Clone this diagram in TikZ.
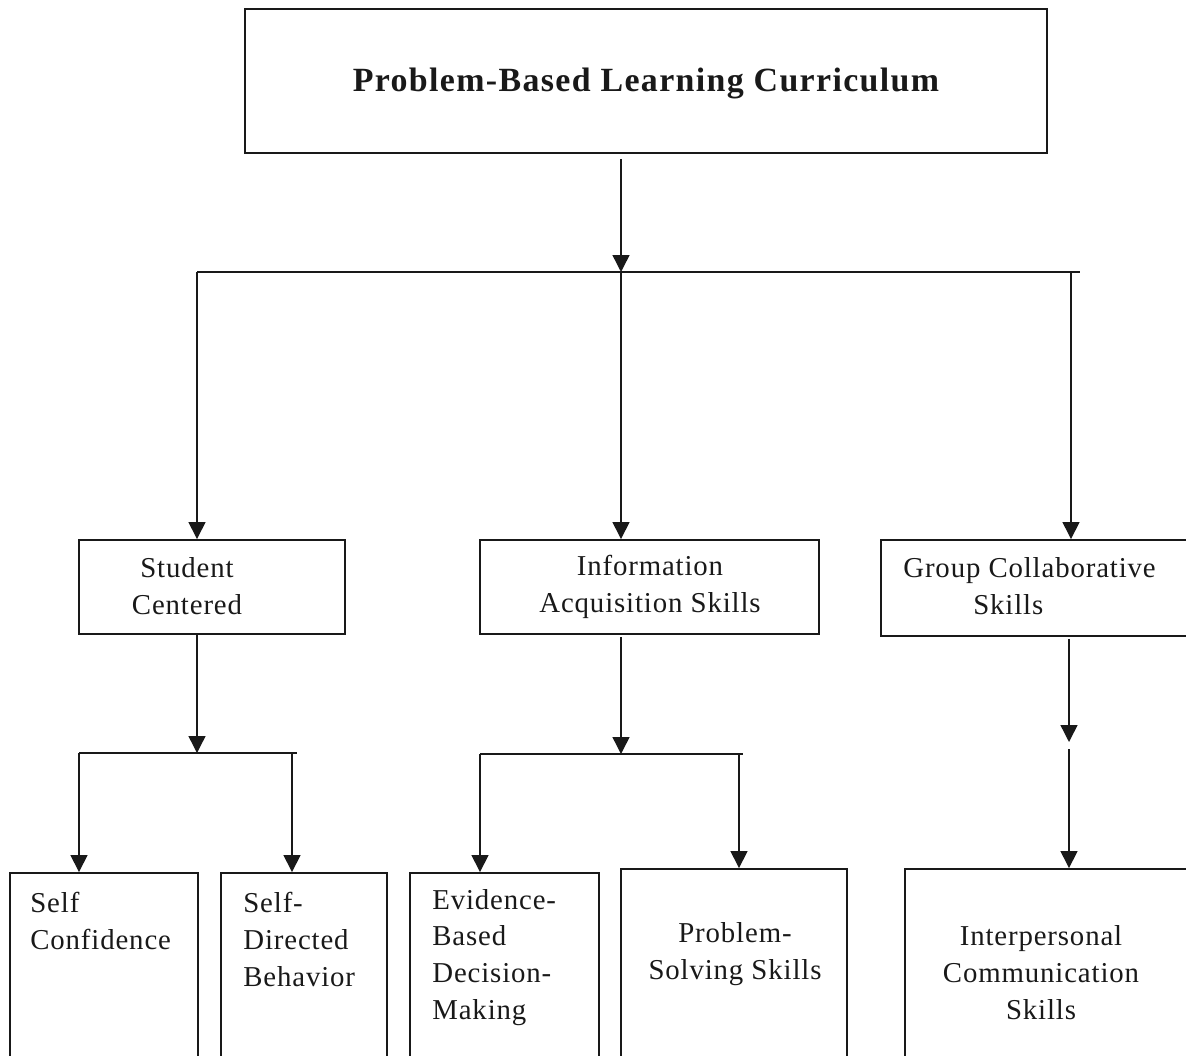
\documentclass[tikz,border=0pt]{standalone}
\usepackage{fontspec}
\setmainfont{Liberation Serif}[LetterSpace=3]
\newfontfamily\titlefont{Liberation Serif}[LetterSpace=4]
\usepackage{tikz}
\usetikzlibrary{arrows.meta,positioning}

\begin{document}
\begin{tikzpicture}[x=0.02cm,y=-0.02cm,
  font=\fontsize{16.4}{21}\selectfont,
  box/.style={draw=cl,line width=1.1pt,inner sep=0pt,fill=none},
  arr/.style={draw=cl,line width=0.8pt,-{Triangle[width=0.34cm,length=0.34cm]}},
  bar/.style={draw=cl,line width=0.8pt},
  txt/.style={inner sep=0pt,text=cl}]
%
\useasboundingbox (0,0) rectangle (1186,1055);
\clip (0,0) rectangle (1186,1055);
%
\definecolor{cl}{rgb}{0.1,0.1,0.1}
%
\node[box,minimum width=16.04cm,minimum height=2.88cm] (pbl) at (646,81) {};
\node[box,minimum width=5.32cm,minimum height=1.88cm] (sc) at (212,587) {};
\node[box,minimum width=6.78cm,minimum height=1.88cm] (ia) at (649.5,587) {};
\node[box,minimum width=6.28cm,minimum height=1.92cm] (gc) at (1038,588) {};
\node[box,minimum width=3.76cm,minimum height=3.94cm] (sconf) at (104,971.5) {};
\node[box,minimum width=3.32cm,minimum height=3.94cm] (sdir) at (304,971.5) {};
\node[box,minimum width=3.78cm,minimum height=3.94cm] (ebdm) at (504.5,971.5) {};
\node[box,minimum width=4.52cm,minimum height=4.02cm] (pss) at (734,969.5) {};
\node[box,minimum width=5.80cm,minimum height=4.02cm] (ics) at (1050,969.5) {};
%
\node[txt,font=\titlefont\bfseries\fontsize{19.3}{23}\selectfont] (pblText) at (646,83) {Problem-Based Learning Curriculum};
\node[txt,align=center] (scText) at (187,586.5) {Student\\Centered};
\node[txt,align=center] (iaText) at (650,586.5) {Information\\Acquisition Skills};
\node[txt,align=left,anchor=west] (gcText) at (903,586.5) {Group Collaborative\\\hspace*{1.4cm}Skills};
\node[txt,align=left,anchor=west] (sconfText) at (30,921) {Self\\Confidence};
\node[txt,align=left,anchor=west] (sdirText) at (243,939.5) {Self-\\Directed\\Behavior};
\node[txt,align=left,anchor=west] (ebdmText) at (432,957.5) {Evidence-\\Based\\Decision-\\Making};
\node[txt,align=center] (pssText) at (735,954.5) {Problem-\\Solving Skills};
\node[txt,align=center] (icsText) at (1041,973) {Interpersonal\\Communication\\Skills};
%
\coordinate (j1) at (621,272);
\coordinate (barL) at (197,272);
\coordinate (barR) at (1080,272);
\coordinate (gcDrop) at (1071,272);
\coordinate (j2) at (197,753);
\coordinate (b2L) at (79,753);
\coordinate (b2R) at (297,753);
\coordinate (b2Drop) at (292,753);
\coordinate (j3) at (621,754);
\coordinate (b3L) at (480,754);
\coordinate (b3R) at (743,754);
\coordinate (b3Drop) at (739,754);
\coordinate (gcA) at (1069,742);
\coordinate (gcB) at (1069,749);
%
\draw[arr] ([yshift=-0.1cm]j1 |- pbl.south) -- (j1);
\draw[bar] (barL) -- (barR);
\draw[arr] (barL) -- (barL |- sc.north);
\draw[arr] (j1) -- (j1 |- ia.north);
\draw[arr] (gcDrop) -- (gcDrop |- gc.north);
%
\draw[arr] (j2 |- sc.south) -- (j2);
\draw[bar] (b2L) -- (b2R);
\draw[arr] (b2L) -- (b2L |- sconf.north);
\draw[arr] (b2Drop) -- (b2Drop |- sdir.north);
%
\draw[arr] ([yshift=-0.04cm]j3 |- ia.south) -- (j3);
\draw[bar] (b3L) -- (b3R);
\draw[arr] (b3L) -- (b3L |- ebdm.north);
\draw[arr] (b3Drop) -- (b3Drop |- pss.north);
%
\draw[arr] ([yshift=-0.04cm]gcA |- gc.south) -- (gcA);
\draw[arr] (gcB) -- (gcB |- ics.north);
%
\end{tikzpicture}
\end{document}
